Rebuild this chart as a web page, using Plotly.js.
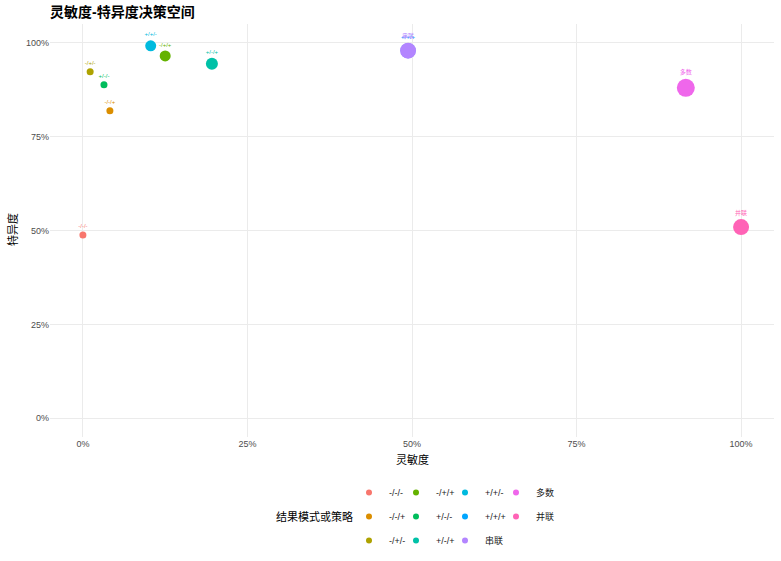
<!DOCTYPE html>
<html>
<head>
<meta charset="utf-8">
<script src="https://cdn.plot.ly/plotly-3.0.1.min.js"></script>
<style>html,body{margin:0;padding:0;background:#fff;}#chart{width:781px;height:561px;}</style>
</head>
<body>
<div id="chart"></div>
<script>
// categories (legend order)
const categories = ["-/-/-", "-/-/+", "-/+/-", "-/+/+", "+/-/-", "+/-/+", "+/+/-", "+/+/+", "串联", "多数", "并联"];
// sensitivity (x) and specificity (y)
const sensitivity = [0.000, 0.041, 0.011, 0.125, 0.032, 0.196, 0.103, 0.494, 0.494, 0.916, 1.000];
const specificity = [0.488, 0.819, 0.923, 0.965, 0.888, 0.944, 0.992, 0.979, 0.979, 0.880, 0.509];
// point weight (size aesthetic)
const weight = [7, 7, 7, 11, 7, 12, 11, 15, 16, 18, 16];
const colors = ["#F8766D", "#DB8E00", "#AEA200", "#64B200", "#00BD5C", "#00C1A7", "#00BADE", "#00A6FF", "#B385FF", "#EF67EB", "#FF63B6"];
const tickVals = [0, 0.25, 0.5, 0.75, 1];
const tickText = ["0%", "25%", "50%", "75%", "100%"];

const FONT = "Liberation Sans, Arial, Noto Sans CJK SC, sans-serif";
const traces = [];
categories.forEach((c, i) => {
  traces.push({
    type: "scatter", mode: "markers+text",
    x: [sensitivity[i]], y: [specificity[i]],
    text: [c], textposition: "top center",
    textfont: {size: 6, color: colors[i], family: FONT},
    marker: {size: weight[i], color: colors[i], line: {width: 0}},
    name: c, showlegend: false, hoverinfo: "x+y+name", cliponaxis: false
  });
});
// legend entries, column-major across four legends
const legendIds = ["legend", "legend2", "legend3", "legend4"];
categories.forEach((c, i) => {
  traces.push({
    type: "scatter", mode: "markers",
    x: [null], y: [null],
    marker: {size: 6, color: colors[i]},
    name: c, showlegend: true, legendgroup: "g" + i,
    legend: legendIds[Math.floor(i / 3)]
  });
});

function leg(xpx) {
  return {
    xref: "container", yref: "container",
    x: xpx / 781, xanchor: "left", y: 1 - 478 / 561, yanchor: "top",
    orientation: "v", font: {size: 9, family: FONT, color: "#1a1a1a"},
    bgcolor: "rgba(0,0,0,0)", itemwidth: 30, tracegroupgap: 5,
    itemclick: false, itemdoubleclick: false
  };
}

const layout = {
  width: 781, height: 561,
  margin: {l: 50, r: 7, t: 24, b: 124, autoexpand: false},
  paper_bgcolor: "#fff", plot_bgcolor: "#fff",
  font: {family: FONT, color: "#000"},
  title: {text: "<b>灵敏度-特异度决策空间</b>", x: 0, xref: "paper", xanchor: "left",
          y: 0.979, yref: "container", yanchor: "middle",
          font: {size: 14, family: FONT, color: "#000"}},
  xaxis: {
    range: [-0.05, 1.05], tickvals: tickVals, ticktext: tickText,
    showgrid: true, gridcolor: "#ebebeb", gridwidth: 1, zeroline: false, showline: false,
    ticks: "", tickfont: {size: 9, color: "#4d4d4d", family: FONT},
    fixedrange: true
  },
  yaxis: {
    range: [-0.05, 1.05], tickvals: tickVals, ticktext: tickText,
    showgrid: true, gridcolor: "#ebebeb", gridwidth: 1, zeroline: false, showline: false,
    ticks: "", tickfont: {size: 9, color: "#4d4d4d", family: FONT},
    fixedrange: true
  },
  legend: leg(349), legend2: leg(396), legend3: leg(445), legend4: leg(496),
  annotations: [
    {
      text: "结果模式或策略", xref: "paper", yref: "paper",
      x: (355 - 50) / 724, xanchor: "right", y: (437 - 516) / 413, yanchor: "middle",
      showarrow: false, font: {size: 11, family: FONT, color: "#000"}
    },
    {
      text: "灵敏度", xref: "paper", yref: "paper",
      x: (412 - 50) / 724, xanchor: "center", y: (437 - 459) / 413, yanchor: "middle",
      showarrow: false, font: {size: 11, family: FONT, color: "#000"}
    },
    {
      text: "特异度", xref: "paper", yref: "paper", textangle: -90,
      x: (12 - 50) / 724, xanchor: "center", y: (437 - 230) / 413, yanchor: "middle",
      showarrow: false, font: {size: 11, family: FONT, color: "#000"}
    }
  ]
};

Plotly.newPlot("chart", traces, layout, {displayModeBar: false, staticPlot: true});
</script>
</body>
</html>
